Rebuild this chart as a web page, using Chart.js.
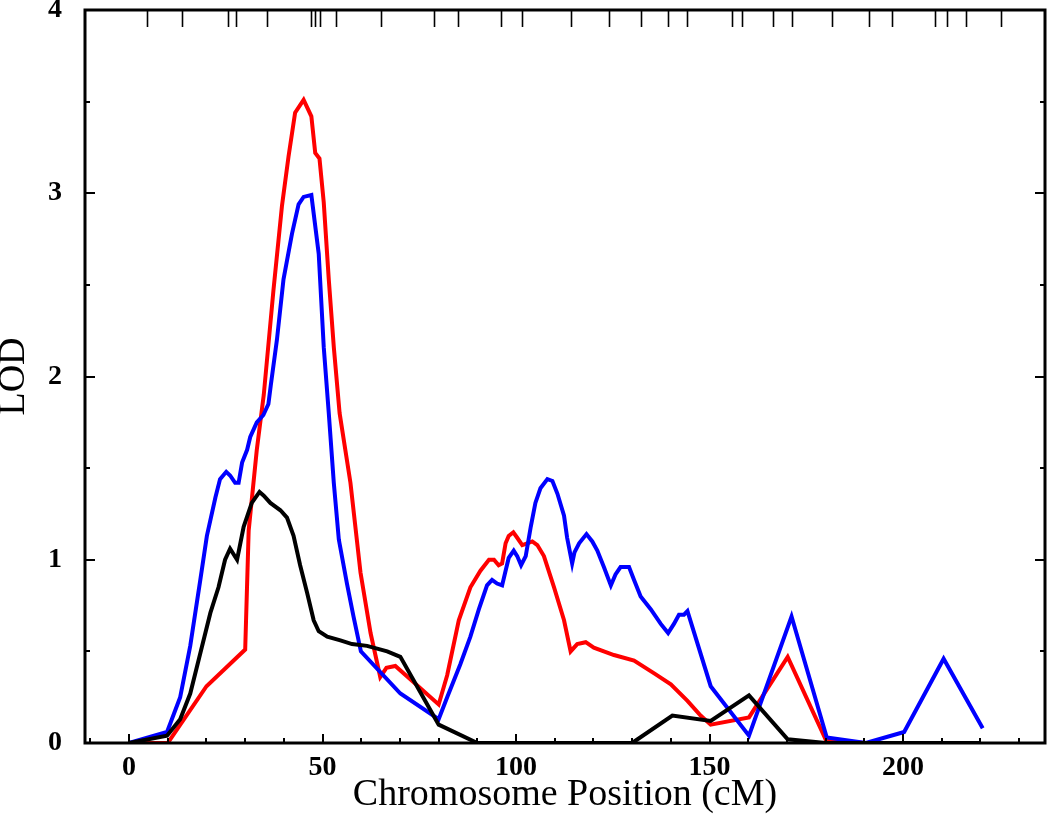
<!DOCTYPE html>
<html>
<head>
<meta charset="utf-8">
<script src="https://cdn.jsdelivr.net/npm/chart.js@4"></script>
<style>
  html, body { margin: 0; padding: 0; background: #fff; }
  #wrap { width: 1050px; height: 818px; }
</style>
</head>
<body>
<div id="wrap"><canvas id="lod"></canvas></div>
<script>
// LOD profiles along the chromosome (cM, LOD)
const redPos = [0, 10, 20, 30, 30.9, 33.0, 34.8, 37.3, 39.5, 41.2, 42.9, 45.1, 47.1, 48.1, 49.2, 50.3, 51.6, 52.9, 54.4, 57.2, 59.8, 62.4, 64.9, 66.5, 68.8, 80, 82.2, 85.2, 88.2, 90.8, 93.0, 94.3, 95.5, 96.4, 97.3, 98.1, 99.3, 100.3, 101.6, 102.9, 104.2, 105.5, 107.2, 109.8, 112.4, 114.1, 115.8, 118.0, 120.1, 125.3, 130.5, 135.7, 140, 144.3, 147.7, 150.3, 160.2, 170.2, 180, 190, 200, 210, 220];
const redLod = [0, 0, 0.31, 0.51, 1.16, 1.60, 1.90, 2.47, 2.93, 3.20, 3.44, 3.51, 3.42, 3.22, 3.19, 2.95, 2.53, 2.16, 1.80, 1.42, 0.93, 0.60, 0.36, 0.41, 0.42, 0.21, 0.37, 0.67, 0.85, 0.94, 1.00, 1.00, 0.97, 0.98, 1.09, 1.13, 1.15, 1.12, 1.08, 1.09, 1.10, 1.08, 1.02, 0.85, 0.67, 0.50, 0.54, 0.55, 0.52, 0.48, 0.45, 0.38, 0.32, 0.23, 0.15, 0.10, 0.14, 0.47, 0.02, 0, 0, 0, 0];

const bluePos = [0, 9.8, 13.2, 15.8, 18.4, 20.1, 22.3, 23.5, 25.1, 26.1, 27.4, 28.3, 29.2, 30.5, 31.3, 33.0, 34.7, 36.0, 36.6, 38.2, 39.9, 42.1, 43.8, 45.1, 47.1, 49.0, 50.3, 51.6, 52.9, 54.2, 56.3, 58.0, 59.9, 70.1, 80.0, 82.2, 85.6, 88.2, 90.4, 92.5, 93.8, 95.1, 96.4, 97.3, 98.1, 99.4, 100.3, 101.3, 102.5, 103.8, 105.0, 106.3, 108.1, 109.4, 110.7, 112.4, 113.2, 114.5, 115.1, 116.3, 118.2, 119.7, 121.0, 122.7, 124.5, 125.7, 127.0, 129.2, 130.5, 132.2, 134.8, 137.4, 139.3, 140.8, 142.1, 143.4, 144.3, 150.3, 160.2, 171.2, 180.3, 190.4, 200.3, 210.5, 220.6];
const blueLod = [0, 0.06, 0.25, 0.53, 0.89, 1.13, 1.34, 1.44, 1.48, 1.46, 1.42, 1.42, 1.53, 1.60, 1.67, 1.75, 1.79, 1.85, 1.95, 2.20, 2.53, 2.78, 2.94, 2.98, 2.99, 2.67, 2.16, 1.80, 1.42, 1.11, 0.87, 0.69, 0.50, 0.27, 0.13, 0.25, 0.43, 0.58, 0.73, 0.86, 0.89, 0.87, 0.86, 0.94, 1.01, 1.05, 1.02, 0.97, 1.02, 1.18, 1.31, 1.39, 1.44, 1.43, 1.36, 1.24, 1.12, 0.98, 1.04, 1.09, 1.14, 1.10, 1.05, 0.96, 0.86, 0.92, 0.96, 0.96, 0.89, 0.80, 0.73, 0.65, 0.60, 0.65, 0.70, 0.70, 0.72, 0.31, 0.04, 0.69, 0.03, 0, 0.06, 0.46, 0.08];

const blackPos = [0, 9.8, 13.2, 15.8, 18.4, 21.0, 23.1, 24.8, 26.1, 27.9, 29.6, 31.7, 33.7, 34.8, 36.5, 39.1, 40.8, 42.5, 44.2, 46.0, 47.7, 49.0, 51.2, 54.6, 57.6, 61.5, 66.7, 70.1, 80, 90, 100, 110, 120, 130, 140.4, 150.3, 160.2, 170.2, 180, 190, 200, 210, 220];
const blackLod = [0, 0.04, 0.13, 0.27, 0.49, 0.71, 0.85, 1.00, 1.06, 1.00, 1.18, 1.31, 1.37, 1.35, 1.31, 1.27, 1.23, 1.13, 0.97, 0.82, 0.67, 0.61, 0.58, 0.56, 0.54, 0.53, 0.50, 0.47, 0.10, 0, 0, 0, 0, 0, 0.15, 0.12, 0.26, 0.02, 0, 0, 0, 0, 0];

// marker positions (rug along the top)
const markers = [4.6, 13.6, 25.5, 27.6, 35.6, 47.0, 48.1, 49.4, 53.5, 65.0, 78.8, 84.9, 96.0, 101.5, 114.1, 124.1, 132.3, 139.2, 144.1, 155.7, 158.3, 166.5, 171.2, 181.7, 191.2, 197.1, 208.4, 211.3, 216.4, 225.3];

// axis ticks
const xLabels = [0, 50, 100, 150, 200];
const xMarks = [-10, 0, 10, 20, 30, 40, 50, 60, 70, 80, 90, 100, 110, 120, 130, 140, 150, 160, 170, 180, 190, 200, 210, 220, 230];
const yLabels = [0, 1, 2, 3, 4];
const yMarks = [0, 0.5, 1, 1.5, 2, 2.5, 3, 3.5, 4];

function toPoints(xs, ys) {
  return xs.map((x, i) => ({ x: x, y: ys[i] }));
}

// Cadre, graduations vers l'intérieur et marqueurs en haut
const framePlugin = {
  id: "frame",
  afterDraw(chart) {
    const { ctx, chartArea: a, scales } = chart;
    const line = (x1, y1, x2, y2) => {
      ctx.beginPath();
      ctx.moveTo(x1, y1);
      ctx.lineTo(x2, y2);
      ctx.stroke();
    };
    ctx.save();
    ctx.strokeStyle = "#000";
    ctx.lineWidth = 2;
    xMarks.forEach((v) => {
      const px = Math.round(scales.x.getPixelForValue(v));
      const len = xLabels.includes(v) ? 9 : 5;
      line(px, a.bottom, px, a.bottom - len);
    });
    yMarks.forEach((v) => {
      const py = Math.round(scales.y.getPixelForValue(v));
      const len = yLabels.includes(v) ? 10 : 5;
      line(a.left, py, a.left + len, py);
      line(a.right, py, a.right - len, py);
    });
    ctx.lineWidth = 1.6;
    markers.forEach((v) => {
      const px = Math.round(scales.x.getPixelForValue(v)) + 0.5;
      line(px, a.top, px, a.top + 17);
    });
    ctx.lineWidth = 3;
    ctx.strokeRect(a.left, a.top, a.right - a.left, a.bottom - a.top);
    ctx.restore();
  },
};

const lineStyle = { borderWidth: 4, pointRadius: 0, fill: false, tension: 0 };
const tickFont = { family: "'Liberation Serif', serif", size: 28, weight: "bold" };

new Chart(document.getElementById("lod"), {
  type: "line",
  data: {
    datasets: [
      { data: toPoints(blackPos, blackLod), borderColor: "#000000", ...lineStyle },
      { data: toPoints(bluePos, blueLod), borderColor: "#0000ff", ...lineStyle },
      { data: toPoints(redPos, redLod), borderColor: "#ff0000", ...lineStyle },
    ],
  },
  options: {
    responsive: true,
    maintainAspectRatio: false,
    animation: false,
    layout: { padding: { top: 10, right: 5, left: 0, bottom: 4 } },
    plugins: {
      legend: { display: false },
      tooltip: { enabled: false },
    },
    scales: {
      x: {
        type: "linear",
        min: -11.4,
        max: 236.7,
        grid: { display: false },
        border: { display: false },
        afterBuildTicks: (scale) => {
          scale.ticks = xLabels.map((v) => ({ value: v }));
        },
        afterFit: (scale) => {
          scale.height = 71;
          scale.paddingLeft = 0;
          scale.paddingRight = 0;
        },
        ticks: { color: "#000", padding: 0, maxRotation: 0, font: tickFont },
        title: {
          display: true,
          text: "Chromosome Position (cM)",
          color: "#000",
          padding: { top: 0, bottom: 0 },
          font: { family: "'Liberation Serif', serif", size: 38, lineHeight: 1 },
        },
      },
      y: {
        min: 0,
        max: 4,
        grid: { display: false },
        border: { display: false },
        afterBuildTicks: (scale) => {
          scale.ticks = yLabels.map((v) => ({ value: v }));
        },
        afterFit: (scale) => {
          scale.width = 85;
          scale.paddingTop = 0;
          scale.paddingBottom = 0;
        },
        ticks: { color: "#000", padding: 15, font: tickFont },
        title: {
          display: true,
          text: "LOD",
          color: "#000",
          padding: { top: 0, bottom: 0 },
          font: { family: "'Liberation Serif', serif", size: 38, lineHeight: 0.75 },
        },
      },
    },
  },
  plugins: [framePlugin],
});
</script>
</body>
</html>
